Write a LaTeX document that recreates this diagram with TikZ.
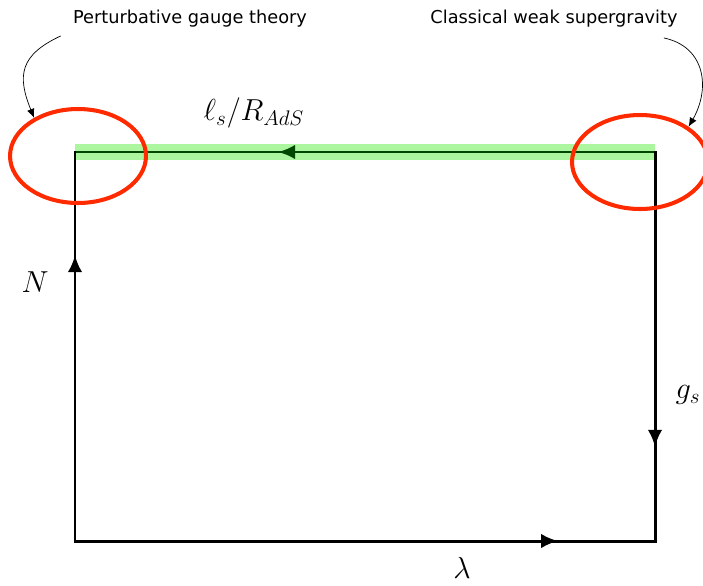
\documentclass[tikz,border=0pt]{standalone}
\usepackage{fontspec}
\newfontfamily\calloutfont{DejaVu Sans}
\usetikzlibrary{arrows.meta,positioning,shapes.geometric,decorations.markings,calc}
\definecolor{bandgreen}{RGB}{172,246,160}
\definecolor{pathgreen}{RGB}{0,72,0}
\definecolor{ringred}{RGB}{255,42,0}
\tikzset{
  side/.style={line width=1.7pt, line cap=rect},
  midarrow/.style={postaction={decorate},
    decoration={markings, mark=at position #1 with {\arrow{Latex[length=3.4mm,width=2.9mm]}}}},
  ring/.style={draw=ringred, ellipse, line width=2.3pt, minimum width=2.72cm, minimum height=1.88cm},
  callout/.style={font=\calloutfont\fontsize{10.1}{12}\selectfont, inner sep=0pt},
  pointer/.style={-{Latex[length=1.8mm,width=1.5mm]}, thin},
  mathlbl/.style={font=\fontsize{17.5}{20}\selectfont, inner sep=0pt}
}
\begin{document}
\begin{tikzpicture}[x=0.02cm, y=0.02cm]
    \useasboundingbox (0,0) rectangle (703,-585);
    \coordinate (bl) at (75,-541);
    \coordinate (tl) at (75,-152);
    \coordinate (tr) at (655,-152);
    \coordinate (br) at (655,-541);
    % the highlighted leg
    \draw[bandgreen, line width=9pt] (tl) -- (tr);
    \draw[side, pathgreen, midarrow=0.65] (tr) -- (tl);
    \draw[side, midarrow=0.735] (bl) -- (tl);
    \draw[side, midarrow=0.758] (tr) -- (br);
    \draw[side, midarrow=0.833] (bl) -- (br);
    \node[ring] (gauge) at (78,-156) {};
    \node[ring] (sugra) at (640,-162) {};
    \node[mathlbl] (ratio) at (254,-113) {$\ell_s/R_{AdS}$};
    \node[mathlbl] (nlbl) at (35,-282) {$N$};
    \node[mathlbl] (gslbl) at (688,-395) {$g_s$};
    \node[mathlbl] (lamlbl) at (462,-568) {$\lambda$};
    \node[callout] (pertlbl) at (190,-19) {Perturbative gauge theory};
    \node[callout] (classlbl) at (554,-19) {Classical weak supergravity};
    \draw[pointer] ([shift={(-12,-8)}]pertlbl.south west) to[out=205, in=112, looseness=1.35] (gauge.139);
    \draw[pointer] ([shift={(-14,-10)}]classlbl.south east) to[out=-12, in=60, looseness=1.2] (sugra.36);
\end{tikzpicture}
\end{document}
